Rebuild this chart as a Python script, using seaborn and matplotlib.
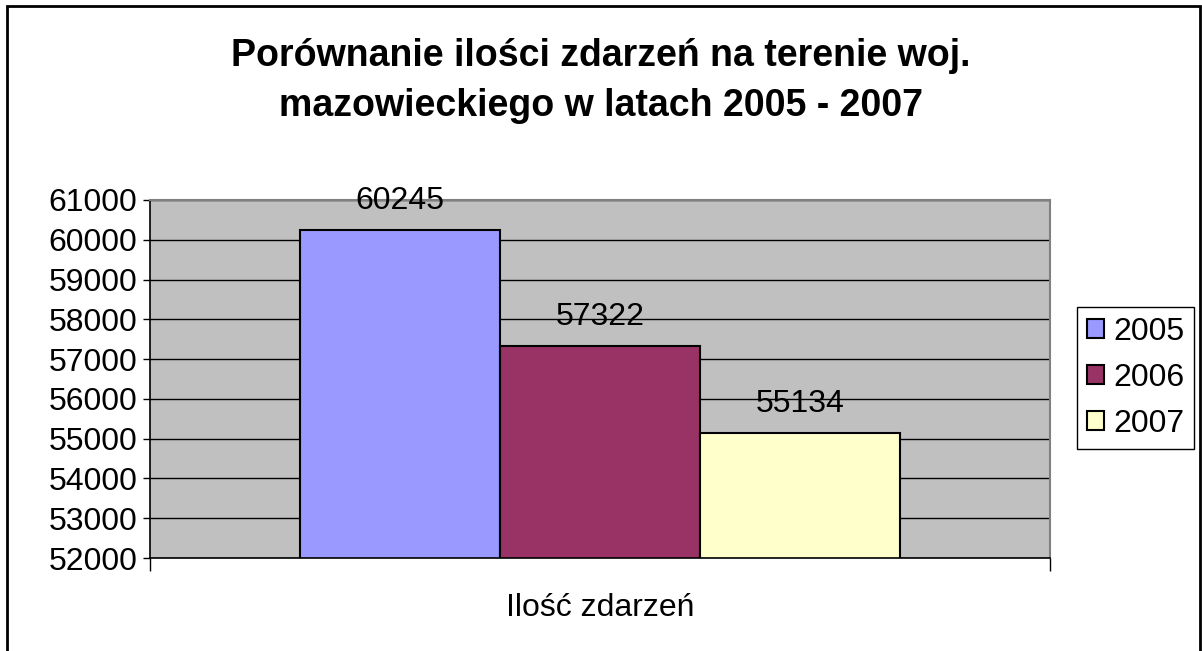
import pandas as pd
import seaborn as sns
import matplotlib.pyplot as plt
from matplotlib.patches import Rectangle

# dane
lata = ["2005", "2006", "2007"]
zdarzenia = [60245, 57322, 55134]
kategoria = ["Ilość zdarzeń"] * 3
kolory = ["#9999FF", "#993366", "#FFFFCC"]

df = pd.DataFrame({"kat": kategoria, "rok": lata, "wartosc": zdarzenia})

sns.set_style("white")
plt.rcParams["font.family"] = ["Liberation Sans", "DejaVu Sans"]
plt.rcParams["text.color"] = "black"
plt.rcParams["xtick.color"] = "black"
plt.rcParams["ytick.color"] = "black"

fig = plt.figure(figsize=(12.02, 6.51), dpi=100)
ax = fig.add_axes([150 / 1202, 1 - 558 / 651, 900 / 1202, 358 / 651])
ax.set_facecolor("#C0C0C0")

sns.barplot(data=df, x="kat", y="wartosc", hue="rok", palette=kolory,
            saturation=1, width=2 / 3, edgecolor="black", linewidth=1.5,
            ax=ax)

ax.set_xlim(-0.5, 0.5)
ax.set_ylim(52000, 61000)
ax.set_yticks(range(52000, 61001, 1000))
ax.set_axisbelow(True)
ax.yaxis.grid(True, color="black", linewidth=1)

for sp in ["left", "bottom"]:
    ax.spines[sp].set_color("black")
    ax.spines[sp].set_linewidth(1.2)
for sp in ["top", "right"]:
    ax.spines[sp].set_color("#808080")
    ax.spines[sp].set_linewidth(1.5)

ax.tick_params(axis="y", which="major", length=5, width=1, color="black",
               labelsize=23, pad=4, left=True, labelcolor="black")
ax.tick_params(axis="x", which="major", length=0, labelsize=23, pad=25,
               labelcolor="black")
ax.set_xticks([-0.5, 0.5], minor=True)
ax.tick_params(axis="x", which="minor", length=9, width=1, color="black",
               bottom=True)
ax.set_xlabel("")
ax.set_ylabel("")

for cont in ax.containers:
    ax.bar_label(cont, fontsize=23, padding=10, color="black")

ax.legend(loc="center left", bbox_to_anchor=(1077 / 1202, 1 - 378 / 651),
          bbox_transform=fig.transFigure, fontsize=23, frameon=True,
          fancybox=False, edgecolor="black", framealpha=1,
          handlelength=0.55, handleheight=0.55, handletextpad=0.3,
          labelspacing=0.5, borderpad=0.3, borderaxespad=0)
ax.get_legend().get_frame().set_linewidth(1)

fig.text(0.5, 1 - 81 / 651,
         "Porównanie ilości zdarzeń na terenie woj.\nmazowieckiego w latach 2005 - 2007",
         ha="center", va="center", fontsize=27, fontweight="bold",
         linespacing=1.5, color="black")

fig.patches.append(Rectangle((7 / 1202, -0.1), 1193 / 1202, 1.1 - 6 / 651,
                             transform=fig.transFigure, fill=False,
                             edgecolor="black", linewidth=2))

fig.savefig("out.png", dpi=100)
